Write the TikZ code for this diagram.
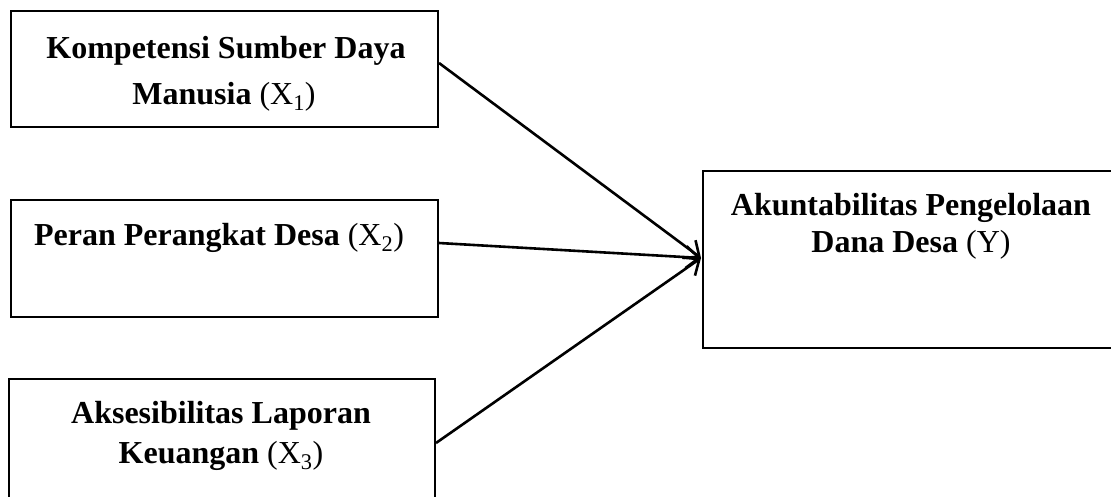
\documentclass[tikz,border=0pt]{standalone}
\usepackage{fontspec}
\setmainfont{Liberation Serif}
\usetikzlibrary{arrows.meta}
\tikzset{
  boxline/.style={draw=black, line width=2.4pt},
  lbl/.style={anchor=base, inner sep=0pt, font=\fontsize{32}{46}\selectfont},
  conn/.style={line width=2.6pt, -{Straight Barb[length=13pt,width=22pt,line width=2.6pt]}}
}
\begin{document}
\begin{tikzpicture}[x=1pt,y=-1pt]
\useasboundingbox (0,0) rectangle (1111,496);
\clip (0,0) rectangle (1111,496);
% boxes
\draw[boxline] (11,11) rectangle (438,127);
\coordinate (b1e) at (439,63);
\draw[boxline] (11,200) rectangle (438,317);
\coordinate (b2e) at (439,243);
\draw[boxline] (9,379) rectangle (435,520);
\coordinate (b3e) at (436,443);
\draw[boxline] (703,171) rectangle (1130,348);
\coordinate (ye) at (701,258);
% texts
\node[lbl] (t1a) at (226,58) {\textbf{Kompetensi Sumber Daya}};
\node[lbl] (t1b) at (224,104) {\textbf{Manusia} (X\textsubscript{1})};
\node[lbl] (t2a) at (219,245) {\textbf{Peran Perangkat Desa} (X\textsubscript{2})};
\node[lbl] (t3a) at (221,423) {\textbf{Aksesibilitas Laporan}};
\node[lbl] (t3b) at (221,463) {\textbf{Keuangan} (X\textsubscript{3})};
\node[lbl] (tya) at (911,215) {\textbf{Akuntabilitas Pengelolaan}};
\node[lbl] (tyb) at (911,252) {\textbf{Dana Desa} (Y)};
% connectors
\draw[conn] (b1e) -- (ye);
\draw[conn] (b2e) -- (ye);
\draw[conn] (b3e) -- (ye);
\end{tikzpicture}
\end{document}
